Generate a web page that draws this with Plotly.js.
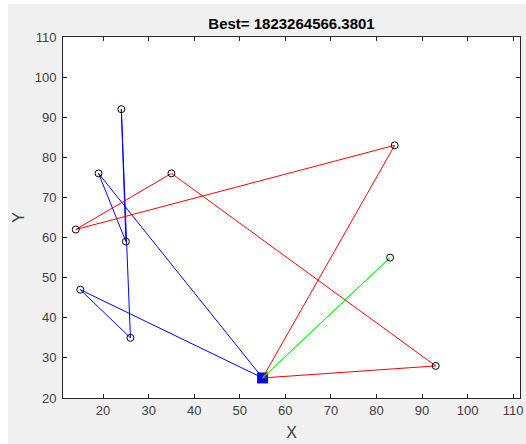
<!DOCTYPE html>
<html>
<head>
<meta charset="utf-8">
<script src="https://cdn.plot.ly/plotly-3.0.1.min.js"></script>
<style>
html,body{margin:0;padding:0;background:#ffffff;}
#chart{position:absolute;left:8px;top:4px;width:518px;height:440px;}
</style>
</head>
<body>
<div id="chart"></div>
<script>
// Customer locations
const custX = [24, 19, 35, 84, 14, 25, 83, 15, 26, 93];
const custY = [92, 76, 76, 83, 62, 59, 55, 47, 35, 28];
// Depot
const depotX = [55];
const depotY = [25];
// Routes (start and end at depot)
const blueRouteX = [55, 19, 25, 24, 26, 15, 55];
const blueRouteY = [25, 76, 59, 92, 35, 47, 25];
const redRouteX = [55, 84, 14, 35, 93, 55];
const redRouteY = [25, 83, 62, 76, 28, 25];
const greenRouteX = [55, 83, 55];
const greenRouteY = [25, 55, 25];
const titleText = 'Best= 1823264566.3801';
const xTicks = [20, 30, 40, 50, 60, 70, 80, 90, 100, 110];
const yTicks = [20, 30, 40, 50, 60, 70, 80, 90, 100, 110];

const traces = [
  {x: depotX, y: depotY, mode: 'markers', type: 'scatter',
   marker: {symbol: 'square', size: 11, color: '#0000ff'}, hoverinfo: 'skip'},
  {x: blueRouteX, y: blueRouteY, mode: 'lines', type: 'scatter',
   line: {color: '#0000ff', width: 1}},
  {x: redRouteX, y: redRouteY, mode: 'lines', type: 'scatter',
   line: {color: '#ff0000', width: 1}},
  {x: greenRouteX, y: greenRouteY, mode: 'lines', type: 'scatter',
   line: {color: '#00ff00', width: 1}},
  {x: custX, y: custY, mode: 'markers', type: 'scatter',
   marker: {symbol: 'circle-open', size: 7, color: '#000000', line: {width: 1, color: '#000000'}}}
];

const axisCommon = {
  showgrid: false, zeroline: false, showline: true, mirror: 'ticks',
  linecolor: '#262626', linewidth: 1,
  ticks: 'inside', ticklen: 4, tickwidth: 1, tickcolor: '#262626',
  tickfont: {family: 'Liberation Sans, Arial, sans-serif', size: 13, color: '#404040'},
  tickmode: 'array'
};

const layout = {
  width: 518, height: 440,
  paper_bgcolor: '#f0f0f0', plot_bgcolor: '#ffffff',
  showlegend: false,
  margin: {l: 55, r: 6, t: 33, b: 46, pad: 0},
  title: {text: '<b>' + titleText + '</b>', x: 0.5, xanchor: 'center',
          xref: 'paper', y: 1, yref: 'paper', yanchor: 'bottom', pad: {b: 8},
          font: {family: 'Liberation Sans, Arial, sans-serif', size: 15, color: '#000000'}},
  xaxis: Object.assign({}, axisCommon, {
    range: [11.2, 111.5], tickvals: xTicks, ticktext: xTicks.map(String),
    title: {text: 'X', standoff: 10, font: {family: 'Liberation Sans, Arial, sans-serif', size: 16, color: '#404040'}}
  }),
  yaxis: Object.assign({}, axisCommon, {
    range: [20, 110], tickvals: yTicks, ticktext: yTicks.map(String),
    ticklabelstandoff: 3,
    title: {text: 'Y', standoff: 6, font: {family: 'Liberation Sans, Arial, sans-serif', size: 16, color: '#404040'}}
  })
};

Plotly.newPlot('chart', traces, layout, {displayModeBar: false, staticPlot: true});
</script>
</body>
</html>
